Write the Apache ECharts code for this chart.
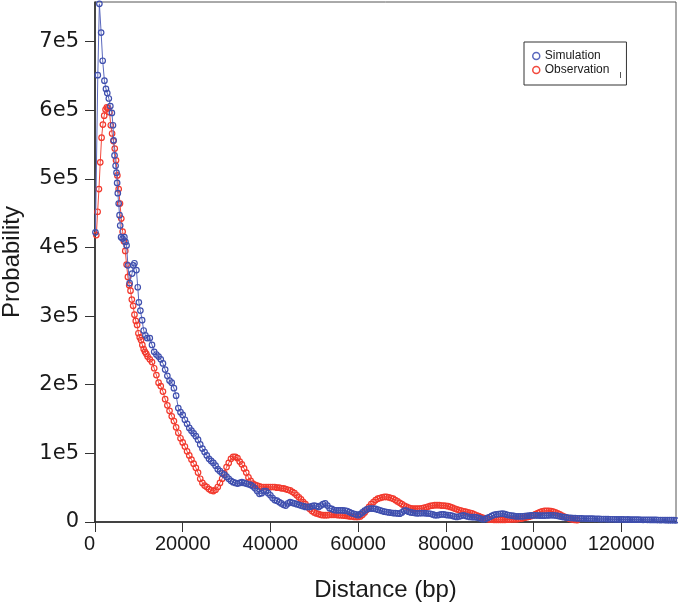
<!DOCTYPE html>
<html><head><meta charset="utf-8">
<script src="https://cdn.jsdelivr.net/npm/echarts@6/dist/echarts.min.js"></script>
<style>html,body{margin:0;padding:0;background:#fff}#c{width:678px;height:611px}</style>
</head><body><div id="c"></div>
<script>
// Observation (red)
const obsDist=[300,600,900,1200,1500,1800,2100,2400,2700,3000,3300,3600,3900,4200,4500,4800,5100,5400,5700,6000,
6300,6600,6900,7200,7500,7800,8100,8400,8700,9000,9300,9600,9900,10200,10500,10800,11100,11400,11700,12000,
12500,13000,13500,14000,14500,15000,15500,16000,16500,17000,
17500,18000,18500,19000,19500,20000,20500,21000,21500,22000,
22500,23000,23500,24000,24500,25000,25500,26000,26500,27000,
27500,28000,28500,29000,29500,30000,30500,31000,31500,32000,
32500,33000,33500,34000,34500,35000,35500,36000,36500,37000,
37500,38000,38500,39000,39500,40000,40500,41000,41500,42000,
42500,43000,43500,44000,44500,45000,45500,46000,46500,47000,
47500,48000,48500,49000,49500,50000,50500,51000,51500,52000,
52500,53000,53500,54000,54500,55000,55500,56000,56500,57000,
57500,58000,58500,59000,59500,60000,60500,61000,61500,62000,
62500,63000,63500,64000,64500,65000,65500,66000,66500,67000,
67500,68000,68500,69000,69500,70000,70500,71000,71500,72000,
72500,73000,73500,74000,74500,75000,75500,76000,76500,77000,
77500,78000,78500,79000,79500,80000,80500,81000,81500,82000,
82500,83000,83500,84000,84500,85000,85500,86000,86500,87000,
87500,88000,88500,89000,89500,90000,90500,91000,91500,92000,
92500,93000,93500,94000,94500,95000,95500,96000,96500,97000,
97500,98000,98500,99000,99500,100000,100500,101000,101500,102000,
102500,103000,103500,104000,104500,105000,105500,106000,106500,107000,
107500,108000,108500,109000,109500,110000];
const obsProb=[418000,452000,485000,524000,560000,579000,592000,601000,604000,603000,597000,578000,566000,555000,544000,527000,505000,485000,464000,442000,
423000,409000,395000,375000,357000,345000,337000,324000,315000,302000,293000,287000,275000,269000,265000,258000,252000,248000,245000,241000,
237000,233000,224000,214000,203000,198000,190000,179000,170000,162000,
154000,147000,138000,130000,122000,116000,110000,103000,97000,91000,
85000,79000,72000,63000,57000,53000,51000,48000,46000,45000,
47000,51000,57000,63000,71000,80000,86000,92000,95000,95000,
93000,88000,84000,78000,72000,65000,60000,56000,54000,53000,
52000,51000,51000,51000,51000,51000,51000,51000,50000,50000,
49000,49000,48000,47000,46000,44000,42000,39000,36000,33000,
29000,26000,22000,19000,16000,14000,12500,11500,10500,10000,
10000,10000,10500,10500,10500,10500,10000,9800,9500,9200,
8800,8300,8000,7600,7300,7300,8000,10500,14000,18000,
22000,26000,29000,32000,34000,35000,36000,36500,36500,36000,
35000,34000,32000,30000,28000,26000,24000,22500,21000,20000,
19500,19500,19500,19500,20000,20500,21500,22500,23500,24000,
24500,24500,24500,24000,24000,23500,23000,22000,21000,19500,
18500,17500,16500,15600,15000,14200,13500,12500,11000,9800,
8500,7000,6000,5000,4300,3600,3300,3200,3200,3200,
3200,3200,3200,3400,3600,3900,3900,3900,4200,4800,
5400,6200,7000,7800,8800,10000,11500,13000,14500,15500,
16200,16400,16200,15800,15000,14000,12700,11200,9500,8000,
6500,5400,4300,3500,3000,2800];

// Simulation (blue)
const simDist=[100,640,1000,1400,1750,2150,2500,2800,3150,3500,3850,4100,4250,4450,4700,4900,5050,5200,5400,5600,
5750,5950,6300,6700,6950,7200,7500,7900,8450,8750,9000,9450,9750,10000,10350,10750,11100,11500,11900,12500,
13000,13500,14000,14500,15000,15500,16000,16500,17000,17500,
18000,18500,19000,19500,20000,20500,21000,21500,22000,22500,
23000,23500,24000,24500,25000,25500,26000,26500,27000,27500,
28000,28500,29000,29500,30000,30500,31000,31500,32000,32500,
33000,33500,34000,34500,35000,35500,36000,36500,37000,37500,
38000,38500,39000,39500,40000,40500,41000,41500,42000,42500,
43000,43500,44000,44500,45000,45500,46000,46500,47000,47500,
48000,48500,49000,49500,50000,50500,51000,51500,52000,52500,
53000,53500,54000,54500,55000,55500,56000,56500,57000,57500,
58000,58500,59000,59500,60000,60500,61000,61500,62000,62500,
63000,63500,64000,64500,65000,65500,66000,66500,67000,67500,
68000,68500,69000,69500,70000,70500,71000,71500,72000,72500,
73000,73500,74000,74500,75000,75500,76000,76500,77000,77500,
78000,78500,79000,79500,80000,80500,81000,81500,82000,82500,
83000,83500,84000,84500,85000,85500,86000,86500,87000,87500,
88000,88500,89000,89500,90000,90500,91000,91500,92000,92500,
93000,93500,94000,94500,95000,95500,96000,96500,97000,97500,
98000,98500,99000,99500,100000,100500,101000,101500,102000,102500,
103000,103500,104000,104500,105000,105500,106000,106500,107000,107500,
108000,108500,109000,109500,110000,110500,111000,111500,112000,112500,
113000,113500,114000,114500,115000,115500,116000,116500,117000,117500,
118000,118500,119000,119500,120000,120500,121000,121500,122000,122500,
123000,123500,124000,124500,125000,125500,126000,126500,127000,127500,
128000,128500,129000,129500,130000,130500,131000,131500,132000,132500];
const simProb=[422000,651000,755000,713000,672000,643000,631000,625000,617000,606000,596000,578000,556000,534000,519000,509000,494000,479000,464000,447000,
432000,415000,413000,415000,408000,403000,374000,348000,362000,374000,377000,367000,342000,320000,308000,294000,279000,272000,268000,268000,
258000,248000,244000,241000,237000,231000,222000,213000,206000,203000,
195000,184000,166000,160000,156000,149000,143000,137000,133000,129000,
125000,120000,113000,107000,102000,97000,92000,89000,86000,82000,
77000,74000,71000,69000,66000,63000,60000,58000,57000,56000,
57000,58000,57000,56000,55000,54000,52000,49000,45000,41000,
42000,45000,45000,42000,39000,35000,32000,31000,29000,27000,
25000,24000,27000,29000,28000,27000,26000,25000,24000,23000,
22000,22000,22000,23000,24000,23000,22000,24000,26000,27000,
24000,20000,19000,17500,17000,17000,17000,17000,16500,16000,
14500,13000,12000,11000,10000,11500,14000,16500,18500,19500,
19500,19500,19000,18000,17000,16000,15000,14600,14000,13500,
13000,12800,12500,12200,14000,16500,16500,15000,14000,13500,
13000,12700,12800,13000,13000,12700,12400,12000,11000,10000,
9800,10500,11000,11200,10500,10000,9800,9000,8000,7300,
8000,9000,9800,9000,8000,7300,7200,7000,6900,6000,
5000,4000,4500,6000,7300,9000,10500,11200,11500,12000,
12200,11500,10500,9800,9300,8800,8300,8300,8300,8300,
8600,9000,9400,9600,9800,9600,9500,9400,9300,9300,
9500,9700,9800,9800,9500,9000,8300,7600,7100,6600,
6200,6000,5800,5600,5400,5300,5200,5100,5000,5000,
4900,4800,4600,4700,4500,4300,4400,4200,4100,4000,
4000,3900,3800,3900,3800,3700,3600,3700,3600,3500,
3400,3500,3400,3300,3200,3300,3200,3100,3000,3100,
3000,2900,2800,2900,2800,2700,2600,2700,2600,2500];

const xTicks=[0,20000,40000,60000,80000,100000,120000];
const xTickLabels=['0','20000','40000','60000','80000','100000','120000'];
const yTicks=[0,100000,200000,300000,400000,500000,600000,700000];
const yTickLabels=['0','1e5','2e5','3e5','4e5','5e5','6e5','7e5'];
const seriesNames=['Simulation','Observation'];

const BLUE='#3f4fae', BLUE_LINE='#5a68bd', RED='#f2392d', RED_LINE='#f24a3e';
const FONT='Liberation Sans, Arial, sans-serif';
const pair=(xs,ys)=>xs.map((x,i)=>[x,ys[i]]);

const chart=echarts.init(document.getElementById('c'),null,{renderer:'canvas'});
chart.setOption({
  animation:false,
  backgroundColor:'#fff',
  grid:{left:95,top:2,right:2,bottom:89,outerBoundsMode:'none',containLabel:false,
    show:true,borderColor:'#555',borderWidth:1,backgroundColor:'transparent'},
  xAxis:{type:'value',min:0,max:132500,
    name:'Distance (bp)',nameLocation:'middle',nameGap:56,
    nameTextStyle:{fontFamily:FONT,fontSize:24,color:'#1a1a1a'},
    axisLine:{onZero:false,lineStyle:{color:'#222',width:1.5}},
    axisTick:{show:true,inside:false,length:10,customValues:xTicks,lineStyle:{color:'#333',width:1}},
    axisLabel:{customValues:xTicks,margin:12,fontFamily:FONT,fontSize:20,color:'#1a1a1a',alignMinLabel:'right',
      formatter:v=>xTickLabels[xTicks.indexOf(v)]},
    splitLine:{show:false}},
  yAxis:{type:'value',min:0,max:757600,
    name:'Probability',nameLocation:'middle',nameGap:71,
    nameTextStyle:{fontFamily:FONT,fontSize:24,color:'#1a1a1a'},
    axisLine:{onZero:false,lineStyle:{color:'#222',width:1.5}},
    axisTick:{show:true,inside:false,length:10,customValues:yTicks,lineStyle:{color:'#333',width:1}},
    axisLabel:{customValues:yTicks,margin:16,fontFamily:'DejaVu Sans, sans-serif',fontSize:21,color:'#1a1a1a',
      formatter:v=>yTickLabels[yTicks.indexOf(v)]},
    splitLine:{show:false}},
  legend:{orient:'vertical',left:524,top:42,padding:[8,17,9,8],itemGap:2,itemWidth:7,itemHeight:7,
    borderColor:'#333',borderWidth:1,borderRadius:0,backgroundColor:'#fff',
    textStyle:{fontFamily:FONT,fontSize:12,color:'#1a1a1a'},
    data:[
      {name:seriesNames[0],icon:'circle',itemStyle:{color:'#fff',borderColor:BLUE_LINE,borderWidth:1.5}},
      {name:seriesNames[1],icon:'circle',itemStyle:{color:'#fff',borderColor:RED_LINE,borderWidth:1.5}}
    ]},
  graphic:[{type:'line',shape:{x1:620.5,y1:72,x2:620.5,y2:78},style:{stroke:'#555',lineWidth:1},z:100}],
  series:[
    {name:seriesNames[1],type:'line',data:pair(obsDist,obsProb),symbol:'circle',symbolSize:5.5,
      showSymbol:true,showAllSymbol:true,clip:true,
      itemStyle:{color:'rgba(255,255,255,0)',borderColor:RED,borderWidth:1.2},
      lineStyle:{color:RED_LINE,width:1},emphasis:{disabled:true},z:2},
    {name:seriesNames[0],type:'line',data:pair(simDist,simProb),symbol:'circle',symbolSize:5.5,
      showSymbol:true,showAllSymbol:true,clip:true,
      itemStyle:{color:'rgba(255,255,255,0)',borderColor:BLUE,borderWidth:1.2},
      lineStyle:{color:BLUE_LINE,width:1},emphasis:{disabled:true},z:3}
  ]
});
</script></body></html>
